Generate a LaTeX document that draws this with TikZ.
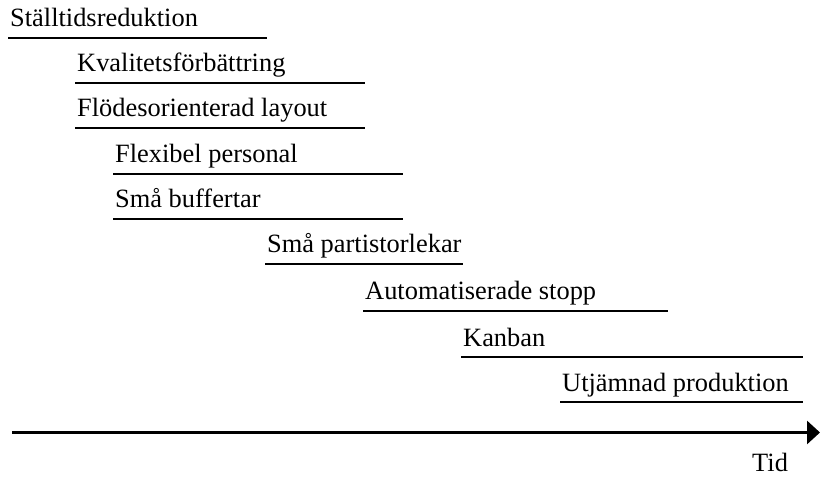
\documentclass[tikz,border=0pt]{standalone}
\usepackage{fontspec}
\setmainfont{Liberation Serif}
\usetikzlibrary{arrows.meta}
\begin{document}
\begin{tikzpicture}[x=1bp,y=-1bp,
  lbl/.style={anchor=base west,inner sep=0pt,font=\fontsize{26.5}{30}\selectfont},
  bar/.style={line width=2.5bp},
  axis/.style={line width=3bp,-{Triangle[length=13bp,width=23bp]}}]
\useasboundingbox (0,0) rectangle (820,477);
% bars: x0, x1, y
\foreach \n/\xa/\xb/\yy/\t in {
  a/8/267/38/Ställtidsreduktion,
  b/75/365/83/Kvalitetsförbättring,
  c/75/365/128/Flödesorienterad layout,
  d/113/403/174/Flexibel personal,
  e/113/403/219/Små buffertar,
  f/265/463/264/Små partistorlekar,
  g/363/668/311/Automatiserade stopp,
  h/461/803/357/Kanban,
  i/560/803/402/Utjämnad produktion}{
  \coordinate (\n s) at (\xa,\yy);
  \coordinate (\n e) at (\xb,\yy);
  \draw[bar] (\n s) -- (\n e);
  \node[lbl] (\n) at (\xa+2,\yy-11) {\t};
}
\coordinate (ax0) at (12,432.5);
\coordinate (ax1) at (820,432.5);
\draw[axis] (ax0) -- (ax1);
\node[lbl] (tid) at (752,471) {Tid};
\end{tikzpicture}
\end{document}
